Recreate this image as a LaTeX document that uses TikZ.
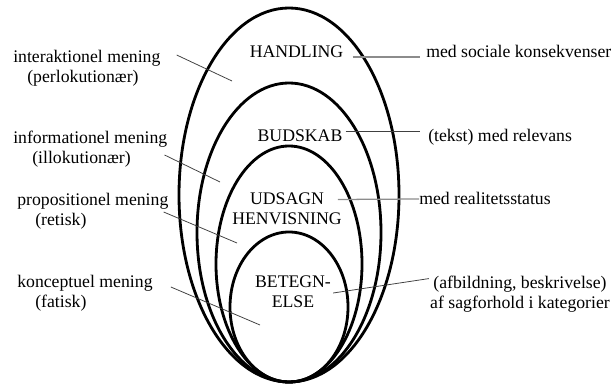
\documentclass[tikz,border=0pt]{standalone}
\usepackage{fontspec}
\setmainfont{Liberation Serif}
\usetikzlibrary{calc}

\begin{document}
\begin{tikzpicture}[x=0.025cm,y=-0.025cm,
    oval/.style={line width=2pt},
    lbl/.style={inner sep=0pt,font=\fontsize{12.6pt}{14.2pt}\selectfont},
    lblleft/.style={lbl,align=left,anchor=west},
    lblmid/.style={lbl,align=center},
    lead/.style={black!75,line width=0.55pt},
    leadgray/.style={black!45,line width=0.9pt}]

\useasboundingbox (0,0) rectangle (616,385);

% the four nested ovals, all touching at the bottom
\foreach \cy/\rx/\ry in {195/110/187, 232.5/92/149.5, 264/73/118, 307/59/75}
    \draw[oval] (289,\cy) ellipse [x radius=\rx, y radius=\ry];

% inside
\node[lblmid,anchor=base] (hand) at (296.5,58) {HANDLING};
\node[lblmid,anchor=base] (budskab) at (300,142) {BUDSKAB};
\node[lblmid] (udsagn) at (287,208.5) {UDSAGN\\HENVISNING};
\node[lblmid] (betegn) at (293,291.5) {BETEGN-\\ELSE};

% left
\node[lblleft] (inter) at (13,68) {interaktionel mening\\\hspace*{10pt}(perlokutionær)};
\node[lblleft] (inform) at (13,149) {informationel mening\\\hspace*{13.5pt}(illokutionær)};
\node[lblleft] (propos) at (17,211) {propositionel mening\\\hspace*{12.8pt}(retisk)};
\node[lblleft] (koncept) at (17,293) {konceptuel mening\\\hspace*{12.8pt}(fatisk)};

% right
\node[lbl,anchor=base west] (sociale) at (426,58) {med sociale konsekvenser};
\node[lbl,anchor=base west] (relevans) at (428,142) {(tekst) med relevans};
\node[lbl,anchor=base west] (realitet) at (419,205) {med realitetsstatus};
\node[lblmid] (kategori) at (520,294) {(afbildning, beskrivelse)\\af sagforhold i kategorier};

\coordinate (cinter) at (232,81);
\coordinate (cinform) at (220,182);
\coordinate (cpropos) at (237,243);
\coordinate (ckoncept) at (260,325);

\draw[lead] ($(inter.east)+(16,-13)$) -- (cinter);
\draw[lead] ($(inform.east)+(-3,6)$) -- (cinform);
\draw[lead] ($(propos.east)+(-5,1)$) -- (cpropos);
\draw[lead] ($(koncept.east)+(18,-6)$) -- (ckoncept);

\draw[leadgray] ($(hand.base east)+(9,-1)$) -- ($(sociale.base west)+(-6,-1)$);
\draw[lead] ($(budskab.base east)+(3,-11)$) -- ($(relevans.base west)+(-8,-11)$);
\draw[leadgray] ($(udsagn.east)+(-4,-9)$) -- ($(realitet.base west)+(0,-6)$);
\draw[lead] ($(betegn.east)+(2,1.5)$) -- ($(kategori.north west)+(-1,3)$);

\end{tikzpicture}
\end{document}
